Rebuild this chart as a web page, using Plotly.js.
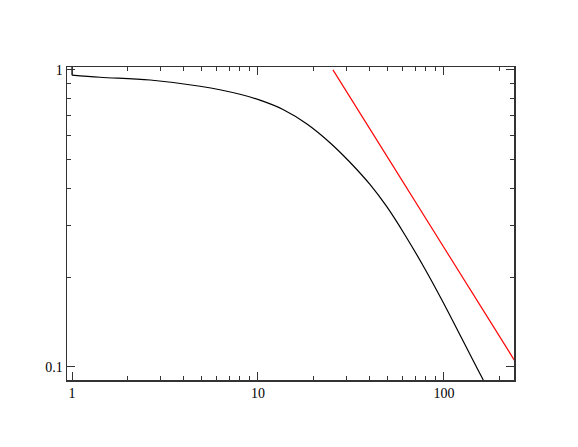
<!DOCTYPE html>
<html>
<head>
<meta charset="utf-8">
<script src="https://cdn.plot.ly/plotly-3.0.1.min.js"></script>
<style>
  body { margin: 0; background: #fff; }
  #plotArea { width: 578px; height: 447px; }
</style>
</head>
<body>
<div id="plotArea"></div>
<script>
// black curve (first two points = little vertical step at x=1)
var curveX = [1, 1, 1.415, 2.63, 4.88, 8.00, 10.25, 13.63, 18.34, 24.39, 31.23, 40.01, 49.38, 61.70, 79.05, 98.76, 162.1, 175];
var curveY = [1.03, 0.960, 0.945, 0.925, 0.881, 0.828, 0.791, 0.736, 0.658, 0.569, 0.489, 0.4116, 0.3457, 0.2783, 0.2138, 0.1655, 0.0908, 0.0835];

// red reference line (slope -1)
var lineX = [25.3, 240];
var lineY = [1, 0.105];

var xMajor = [1, 10, 100];
var xMajorText = ["1", "10", "100"];
var yMajor = [0.1, 1];
var yMajorText = ["0.1", "1"];
var xMinor = [2, 3, 4, 5, 6, 7, 8, 9, 20, 30, 40, 50, 60, 70, 80, 90, 200];
var yMinor = [0.2, 0.3, 0.4, 0.5, 0.6, 0.7, 0.8, 0.9];

var step = {
    x: curveX.slice(0, 2),
    y: curveY.slice(0, 2),
    mode: "lines",
    line: {color: "#000", width: 1.2},
    hoverinfo: "none"
};
var curve = {
    x: curveX.slice(1),
    y: curveY.slice(1),
    mode: "lines",
    line: {color: "#000", width: 1.2, shape: "spline", smoothing: 1},
    hoverinfo: "none"
};
var refLine = {
    x: lineX,
    y: lineY,
    mode: "lines",
    line: {color: "#ff0000", width: 1.2},
    hoverinfo: "none"
};

var axisStyle = {
    type: "log",
    showgrid: false,
    zeroline: false,
    showline: true,
    mirror: "allticks",
    linecolor: "#333",
    linewidth: 1.5,
    ticks: "inside",
    ticklen: 8,
    tickwidth: 1,
    tickcolor: "#333",
    tickmode: "array",
    tickfont: {family: "Liberation Serif, Times New Roman, serif", size: 14, color: "#000"}
};

var layout = {
    width: 578,
    height: 447,
    margin: {l: 67, r: 64, t: 67, b: 67},
    paper_bgcolor: "#fff",
    plot_bgcolor: "#fff",
    showlegend: false,
    xaxis: Object.assign({}, axisStyle, {
        range: [Math.log10(0.94), Math.log10(238)],
        tickvals: xMajor,
        ticktext: xMajorText,
        minor: {tickmode: "array", tickvals: xMinor, ticks: "inside", ticklen: 4, tickcolor: "#333", tickwidth: 1}
    }),
    yaxis: Object.assign({}, axisStyle, {
        range: [Math.log10(0.0904), Math.log10(1.023)],
        tickvals: yMajor,
        ticktext: yMajorText,
        minor: {tickmode: "array", tickvals: yMinor, ticks: "inside", ticklen: 4, tickcolor: "#333", tickwidth: 1}
    })
};

Plotly.newPlot("plotArea", [step, curve, refLine], layout, {staticPlot: true});
</script>
</body>
</html>
